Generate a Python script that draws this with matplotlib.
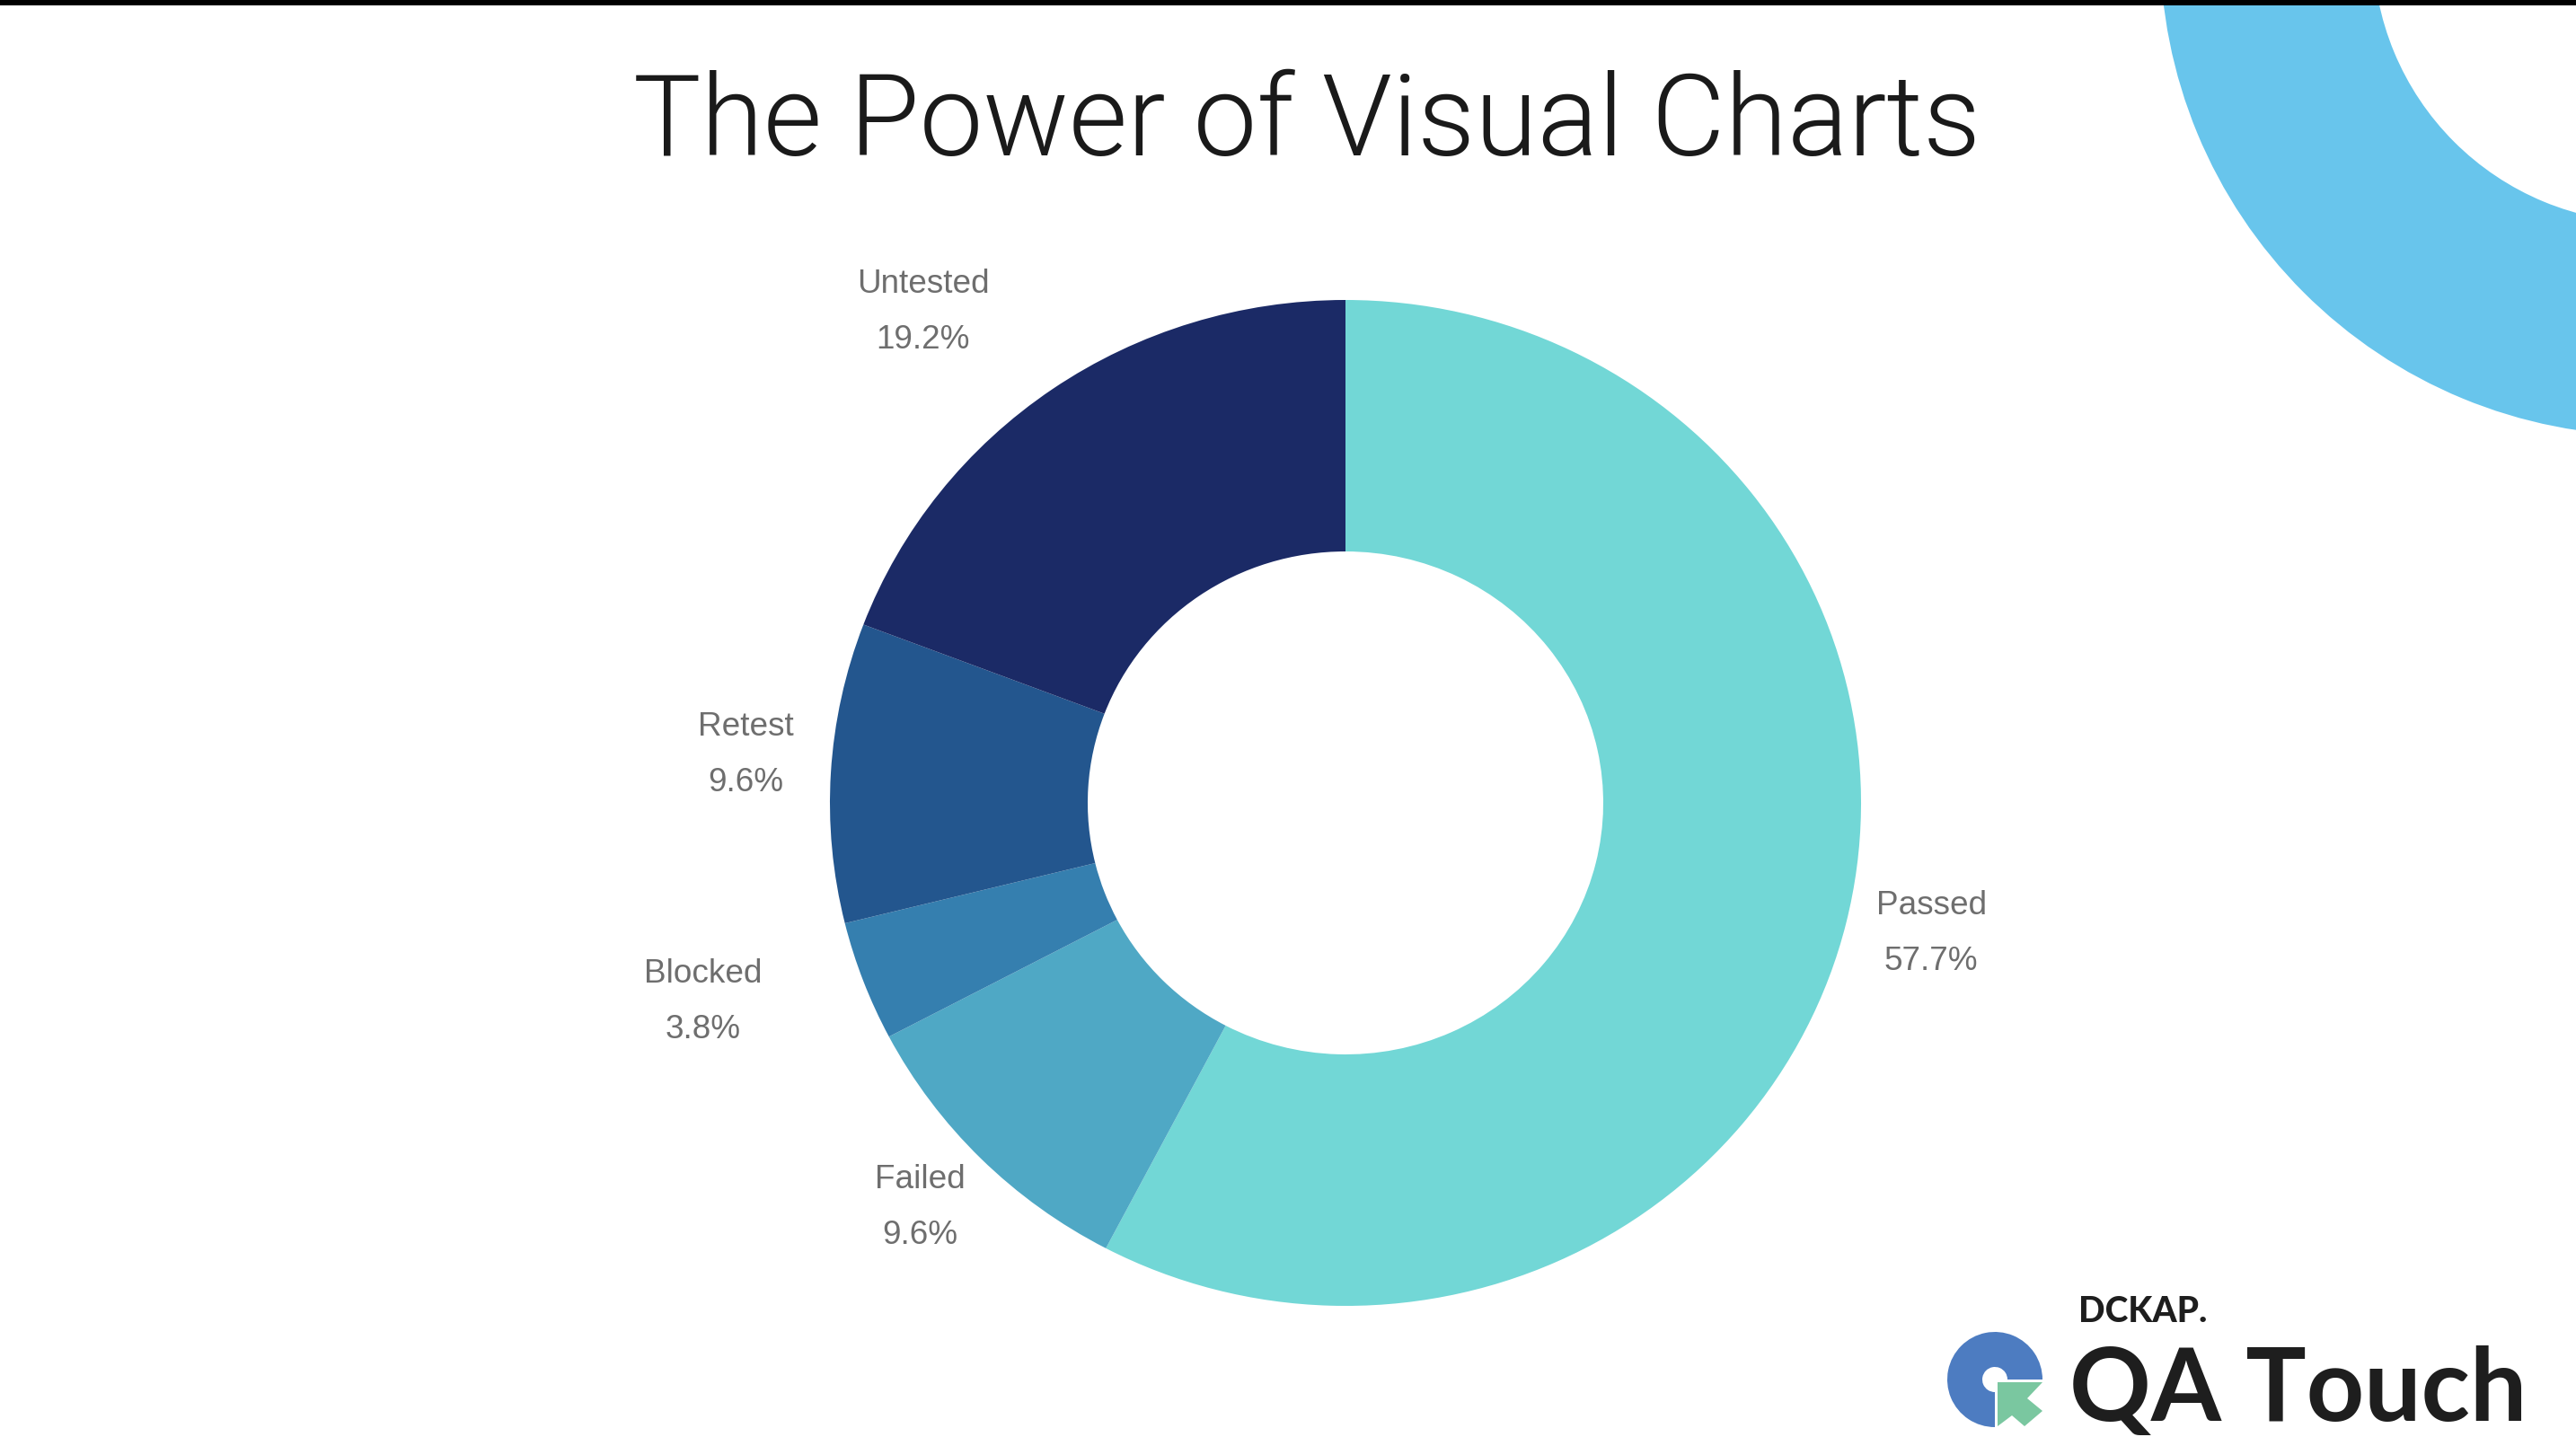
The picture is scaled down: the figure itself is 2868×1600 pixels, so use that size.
import numpy as np
import matplotlib
matplotlib.use("Agg")
import matplotlib.pyplot as plt
from matplotlib.patches import Wedge, Rectangle, Polygon

# test run counts (52 cases in total)
statuses = ["Passed", "Failed", "Blocked", "Retest", "Untested"]
counts = [30, 5, 2, 5, 10]
colors = ["#72D7D6", "#4FA8C5", "#357FAF", "#23568E", "#1B2A66"]

title = "The Power of Visual Charts"

W, H = 2868, 1600
fig = plt.figure(figsize=(W / 200, H / 200), dpi=200)
ax = fig.add_axes([0, 0, 1, 1])
ax.set_xlim(0, W)
ax.set_ylim(0, H)
ax.axis("off")

# donut gets its own axes: the original is stretched slightly sideways
cx, cy = 1498, H - 894
R = 560
sx = 1.025
pax = fig.add_axes([0, 0, 1, 1])
wedges, _ = pax.pie(counts, colors=colors, startangle=90, counterclock=False,
                    radius=R, center=(cx, cy), frame=True,
                    wedgeprops=dict(width=R / 2, linewidth=0))
pax.set_aspect("auto")
pax.set_xlim(cx - cx / sx, cx + (W - cx) / sx)
pax.set_ylim(0, H)
pax.axis("off")

total = sum(counts)
label_dist = [1.19, 1.17, 1.34, 1.20, 1.29]
angle_nudge = [1.2, -1.6, -3.6, -1.1, 6.2]
for w, name, n, d, da in zip(wedges, statuses, counts, label_dist, angle_nudge):
    mid = np.deg2rad((w.theta1 + w.theta2) / 2 + da)
    x = 1500 + d * R * np.cos(mid)
    y = cy + d * R * np.sin(mid)
    ax.text(x, y, f"{name}\n{100 * n / total:.1f}%", ha="center", va="center",
            fontsize=13.3, color="#6E6E6E", family="Liberation Sans",
            linespacing=2.0)

# title
ax.text(1455, H - 138, title, ha="center", va="center", fontsize=45.5,
        color="#1A1A1A", family="Roboto", fontweight=300)

# decorative ring in the top-right corner
ax.add_patch(Wedge((2950, H + 60), 545, 0, 360, width=237,
                   facecolor="#68C5EC", linewidth=0))

# black strip along the top edge
ax.add_patch(Rectangle((0, H - 6), W, 6, facecolor="black", linewidth=0))

# logo
ax.add_patch(Wedge((2221, H - 1536), 53, 0, 270, width=39,
                   facecolor="#4D7CC1", linewidth=0))
green = np.array([[2224, 1539], [2274, 1539], [2257, 1557], [2274, 1571],
                  [2254, 1588], [2240, 1576], [2224, 1588]], dtype=float)
green[:, 1] = H - green[:, 1]
ax.add_patch(Polygon(green, closed=True, facecolor="#7AC7A0", linewidth=0))
ax.text(2314, H - 1472, "DCKAP.", ha="left", va="baseline", fontsize=14,
        color="#1E1E1E", family="Lato", fontweight="black")
ax.text(2304, H - 1582, "QA Touch", ha="left", va="baseline", fontsize=40.5,
        color="#1E1E1E", family="Lato", fontweight="bold")

fig.savefig("out.png", dpi=200, facecolor="white")
